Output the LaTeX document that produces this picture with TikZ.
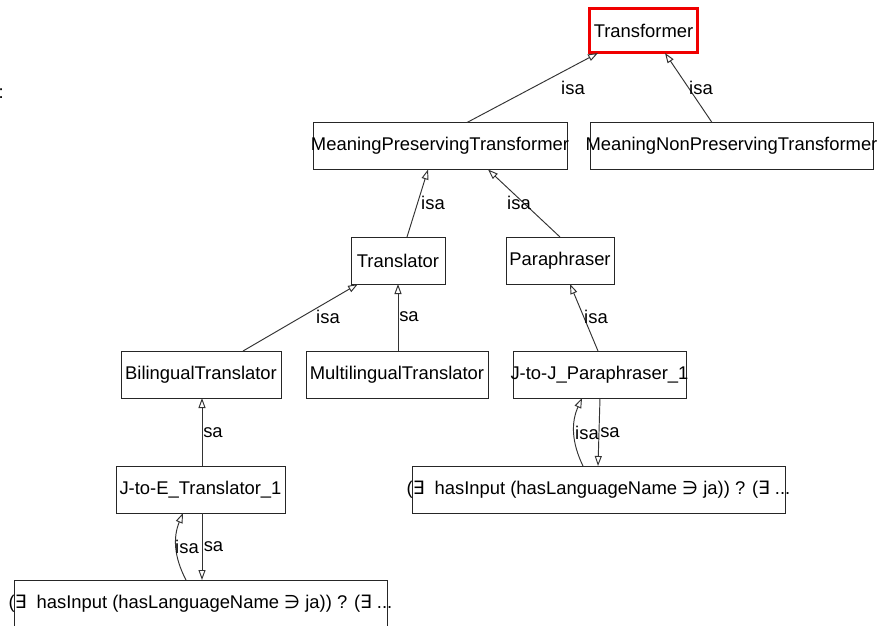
\documentclass[tikz,border=0pt]{standalone}
\usepackage{fontspec}
\setmainfont{Liberation Sans}
\newfontfamily\symfont{DejaVu Sans}
\usetikzlibrary{arrows.meta}

\definecolor{boxline}{HTML}{262626}
\definecolor{edgeline}{HTML}{333333}
\definecolor{rootline}{HTML}{F00000}

\newcommand{\exq}{{\symfont\char"2203}}
\newcommand{\nie}{{\symfont\char"220B}}
% label set in a zero-width box, so the frame keeps its own size
\newcommand{\fixtxt}[1]{\makebox[0pt][c]{#1}}

\begin{document}
\begin{tikzpicture}[x=1pt,y=-1pt,
  every node/.style={font=\fontsize{18.4}{20}\selectfont, inner sep=0pt, outer sep=0pt},
  cls/.style={draw=boxline, line width=1pt, minimum height=47pt},
  root/.style={draw=rootline, line width=3pt, minimum height=44pt},
  isa/.style={draw=edgeline, line width=0.95pt,
    -{Triangle[open, length=10pt, width=7pt, line width=0.95pt]}},
  lbl/.style={text=black}
]
\useasboundingbox[fill=white] (0,0) rectangle (878,625);

% class hierarchy
\node[root] (T) at (643.5,30.5) [minimum width=108pt] {\fixtxt{Transformer}};
\node[cls] (MPT) at (440,146) [minimum width=254pt] {\fixtxt{MeaningPreservingTransformer}};
\node[cls] (MNPT) at (731.5,146) [minimum width=283pt] {\fixtxt{MeaningNonPreservingTransformer}};
\node[cls] (Tr) at (398,260.5) [minimum width=94pt] {\fixtxt{Translator}};
\node[cls] (Pa) at (560,260.5) [minimum width=108pt] {\fixtxt{Paraphraser}};
\node[cls] (Bi) at (201,374.5) [minimum width=160pt] {\fixtxt{BilingualTranslator}};
\node[cls] (Mu) at (397,374.5) [minimum width=182pt] {\fixtxt{MultilingualTranslator}};
\node[cls] (JJ) at (599.5,374.5) [minimum width=173pt] {\fixtxt{J-to-J\_Paraphraser\_1}};
\node[cls] (JE) at (200.5,489.5) [minimum width=169pt] {\fixtxt{J-to-E\_Translator\_1}};
\node[cls] (RF) at (598.5,489.5) [minimum width=373pt]
  {\fixtxt{(\exq\ \ hasInput (hasLanguageName \nie\ ja)) ? (\exq\ ...}};
\node[cls] (LF) at (200.5,603.5) [minimum width=373pt]
  {\fixtxt{(\exq\ \ hasInput (hasLanguageName \nie\ ja)) ? (\exq\ ...}};

\node[anchor=base west] (colon) at (-1.5,98) {:};

% isa links
\draw[isa] ([xshift=27pt]MPT.north) -- ([xshift=-45.5pt,yshift=-0.5pt]T.south);
\draw[isa] ([xshift=-19.5pt]MNPT.north) -- ([xshift=21.5pt,yshift=-0.5pt]T.south);
\draw[isa] ([xshift=9pt]Tr.north) -- ([xshift=-12pt]MPT.south);
\draw[isa] (Pa.north) -- ([xshift=48pt]MPT.south);
\draw[isa] ([xshift=42pt]Bi.north) -- ([xshift=-40pt]Tr.south);
\draw[isa] ([xshift=1pt]Mu.north) -- (Tr.south);
\draw[isa] ([xshift=-1.5pt]JJ.north) -- ([xshift=10pt]Pa.south);
\draw[isa] ([xshift=1.5pt]JE.north) -- ([xshift=1pt]Bi.south);
\draw[isa] ([xshift=-14.5pt]LF.north) to[bend left=25] ([xshift=-17.5pt]JE.south);
\draw[isa] ([xshift=1.5pt]JE.south) -- ([xshift=1.5pt]LF.north);
\draw[isa] ([xshift=-15.5pt]RF.north) to[bend left=25] ([xshift=-17.5pt]JJ.south);
\draw[isa] ([xshift=0.5pt]JJ.south) -- ([xshift=-0.5pt]RF.north);

% link labels
\node[lbl] (l1) at (573,88) {isa};
\node[lbl] (l2) at (701,88) {isa};
\node[lbl] (l3) at (433,203) {isa};
\node[lbl] (l4) at (519,203) {isa};
\node[lbl] (l5) at (328,317) {isa};
\node[lbl] (l6) at (409,317) {sa};
\node[lbl] (l7) at (596,317) {isa};
\node[lbl] (l8) at (213,433) {sa};
\node[lbl] (l9) at (187,547) {isa};
\node[lbl] (l10) at (213.5,547) {sa};
\node[lbl] (l11) at (587,433) {isa};
\node[lbl] (l12) at (610,433) {sa};
\end{tikzpicture}
\end{document}
